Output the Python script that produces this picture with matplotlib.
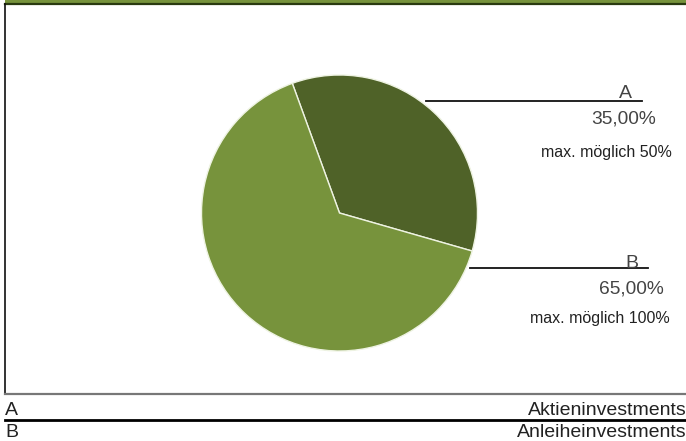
import matplotlib
matplotlib.use('Agg')
import matplotlib.pyplot as plt

# data
labels = ['A', 'B']
shares = [35.0, 65.0]
max_possible = [50, 100]
names = ['Aktieninvestments', 'Anleiheinvestments']
colors = ['#4f6228', '#77933c']

W, H = 686, 441
plt.rcParams['font.family'] = ['Liberation Sans', 'DejaVu Sans']

fig = plt.figure(figsize=(W / 100, H / 100), dpi=100)

# overlay axes in pixel coordinates (y down)
ax = fig.add_axes([0, 0, 1, 1])
ax.set_xlim(0, W)
ax.set_ylim(H, 0)
ax.axis('off')

# header band + frame
ax.fill_between([5, W], 0, 3.5, color='#77933c', lw=0)
ax.plot([5, W], [4, 4], color='#2a3a10', lw=1.6)
ax.plot([4.5, 4.5], [4, 393.5], color='#111111', lw=1.2)
ax.plot([4.5, W], [393.5, 393.5], color='#777777', lw=1.6)

# pie
cx, cy, r = 339.5, 213, 138
pax = fig.add_axes([(cx - r) / W, (H - cy - r) / H, 2 * r / W, 2 * r / H])
pax.pie(shares, colors=colors, startangle=110, counterclock=False,
        wedgeprops=dict(edgecolor='#eef3e2', linewidth=1.0))
pax.set_xlim(-1, 1)
pax.set_ylim(-1, 1)
pax.axis('off')

# callout labels
callouts = [
    # line y, line x0, line x1, letter x, letter baseline, pct right, pct baseline, max right, max baseline
    (101, 426, 642, 625, 98.5, 656, 123.5, 672, 157.5),
    (267.5, 470, 648, 632, 268, 663.5, 293.5, 669.5, 322.5),
]
for i, (ly, lx0, lx1, tx, ty, px, py, mx, my) in enumerate(callouts):
    ax.plot([lx0, lx1], [ly, ly], color='#111111', lw=1.3)
    ax.text(tx, ty, labels[i], ha='center', va='baseline', fontsize=14, color='#444444')
    ax.text(px, py, '{:.2f}%'.format(shares[i]).replace('.', ','), ha='right',
            va='baseline', fontsize=13.8, color='#444444')
    ax.text(mx, my, 'max. möglich {}%'.format(max_possible[i]), ha='right',
            va='baseline', fontsize=11.5, color='#222222')

# legend rows
rows_y = [414.7, 437]
for i, y in enumerate(rows_y):
    ax.text(5, y, labels[i], ha='left', va='baseline', fontsize=14, color='#222222')
    ax.text(W + 1, y, names[i], ha='right', va='baseline', fontsize=14, color='#222222')
ax.plot([5, W], [420.3, 420.3], color='#000000', lw=2)

fig.savefig('out.png', dpi=100)
